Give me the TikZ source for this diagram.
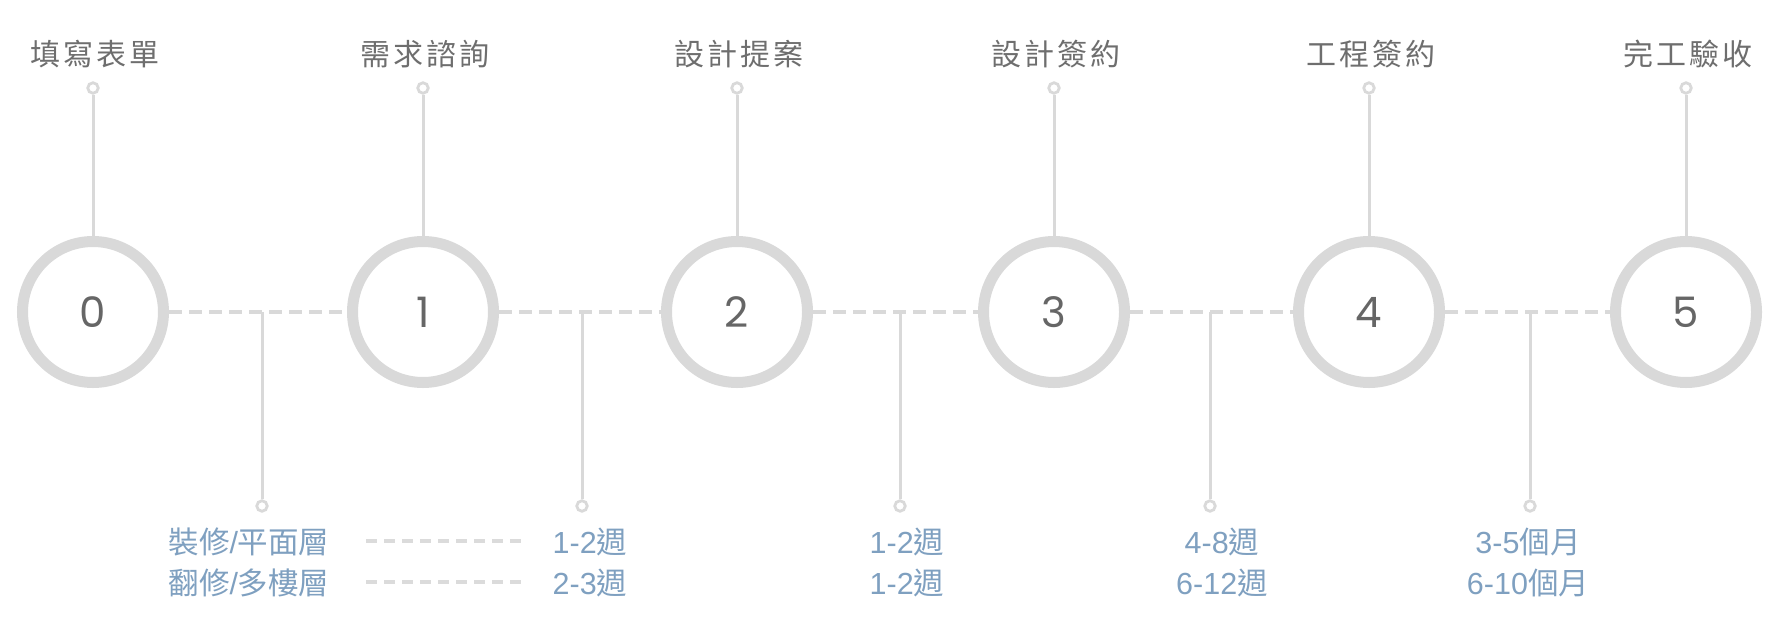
\documentclass[tikz,border=0pt]{standalone}
\usepackage{fontspec}
\newfontfamily\cjk{Noto Sans CJK TC}
\newfontfamily\cjksp[LetterSpace=10]{Noto Sans CJK TC}
\newfontfamily\lat{Liberation Sans}
\newfontfamily\numf{Poppins}
\definecolor{ringgray}{HTML}{D9D9D9}
\definecolor{dashgray}{HTML}{DBDBDB}
\definecolor{labgray}{HTML}{6E6E6E}
\definecolor{numgray}{HTML}{666666}
\definecolor{durblue}{HTML}{7FA0C0}
\tikzset{
  ring/.style={circle, draw=ringgray, line width=11pt, minimum size=141pt, inner sep=0pt,
    font=\numf\fontsize{42}{42}\selectfont, text=numgray},
  toplabel/.style={anchor=base, inner sep=0pt, font=\cjksp\fontsize{30}{30}\selectfont, text=labgray},
  dotend/.style={circle, draw=ringgray, line width=2.8pt, minimum size=10.5pt, inner sep=0pt, fill=white},
  stem/.style={draw=ringgray, line width=3pt},
  linkdash/.style={draw=ringgray, line width=3.5pt, dash pattern=on 13pt off 7pt},
  legdash/.style={draw=dashgray, line width=4pt, dash pattern=on 11pt off 7pt},
  durlabel/.style={anchor=base, inner sep=0pt, font=\fontsize{30.5}{30.5}\selectfont, text=durblue},
}
\newcommand{\dl}[1]{{\lat #1}}
\newcommand{\dc}[1]{{\cjk #1}}
\begin{document}
\begin{tikzpicture}[x=1pt,y=-1pt]
\useasboundingbox (0,0) rectangle (1774,629);
% rings
\node[ring] (c0) at (93,312) {0};
\node[ring] (c1) at (423,312) {1};
\node[ring] (c2) at (737,312) {2};
\node[ring] (c3) at (1054,312) {3};
\node[ring] (c4) at (1369,312) {4};
\node[ring] (c5) at (1686,312) {5};
% top dots and labels
\foreach \i/\x/\t in {0/93/填寫表單,1/423/需求諮詢,2/737/設計提案,3/1054/設計簽約,4/1369/工程簽約,5/1686/完工驗收}{
  \node[dotend] (t\i) at (\x,88) {};
  \node[toplabel] (tl\i) at (\x+1.5,65) {\t};
  \draw[stem] (t\i.south) -- (c\i.north);
}
% dashed links
\draw[linkdash] (c0.east) -- (c1.west);
\draw[linkdash] (c1.east) -- (c2.west);
\draw[linkdash] (c2.east) -- (c3.west);
\draw[linkdash] (c3.east) -- (c4.west);
\draw[linkdash] (c4.east) -- (c5.west);
% bottom connectors
\foreach \i/\x in {0/262,1/582,2/900,3/1210,4/1530}{
  \coordinate (j\i) at (\x,312);
  \node[dotend] (d\i) at (\x,506) {};
  \draw[stem] (j\i) -- (d\i.north);
}
% legend
\node[durlabel] (la) at (249,553) {\dc{裝修}\dl{/}\dc{平面層}};
\node[durlabel] (lb) at (249,594) {\dc{翻修}\dl{/}\dc{多樓層}};
\coordinate (la1) at (366,541);
\coordinate (la2) at (525,541);
\coordinate (lb1) at (366,582);
\coordinate (lb2) at (525,582);
\draw[legdash] (la1) -- (la2);
\draw[legdash] (lb1) -- (lb2);
% durations
\node[durlabel] (u1) at (590,553) {\dl{1-2}\dc{週}};
\node[durlabel] (v1) at (590,594) {\dl{2-3}\dc{週}};
\node[durlabel] (u2) at (907,553) {\dl{1-2}\dc{週}};
\node[durlabel] (v2) at (907,594) {\dl{1-2}\dc{週}};
\node[durlabel] (u3) at (1222,553) {\dl{4-8}\dc{週}};
\node[durlabel] (v3) at (1222,594) {\dl{6-12}\dc{週}};
\node[durlabel] (u4) at (1528,553) {\dl{3-5}\dc{個月}};
\node[durlabel] (v4) at (1528,594) {\dl{6-10}\dc{個月}};
\end{tikzpicture}
\end{document}
